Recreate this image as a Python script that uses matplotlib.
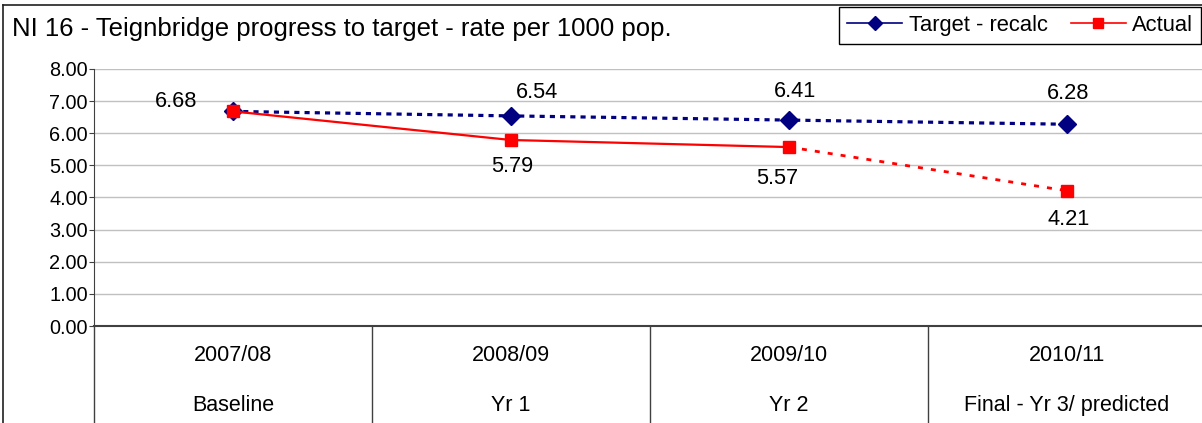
import matplotlib
matplotlib.use("Agg")
import matplotlib.pyplot as plt
from matplotlib.lines import Line2D
import matplotlib.transforms as mtransforms

plt.rcParams['font.family'] = ['Liberation Sans', 'DejaVu Sans']

# ---- data ----
years = ["2007/08", "2008/09", "2009/10", "2010/11"]
stages = ["Baseline", "Yr 1", "Yr 2", "Final - Yr 3/ predicted"]
target = [6.68, 6.54, 6.41, 6.28]
actual = [6.68, 5.79, 5.57, 4.21]
yticks = [0, 1, 2, 3, 4, 5, 6, 7, 8]
title = "NI 16 - Teignbridge progress to target - rate per 1000 pop."
series_names = ["Target - recalc", "Actual"]

# ---- layout constants (pixel offsets for data labels) ----
target_label_offsets_px = [(-57, 10), (26, 23), (6, 29), (1, 31)]
actual_label_offsets_px = [None, (1, -27), (-12, -31), (2, -29)]

W, H = 1202, 423
fig = plt.figure(figsize=(W / 100, H / 100), dpi=100)
ax = fig.add_axes([94 / W, 1 - 326 / H, (1206 - 94) / W, (326 - 69) / H])

navy = "#000080"
red = "#FF0000"
x = list(range(len(years)))

ax.set_xlim(-0.5, len(years) - 0.5)
ax.set_ylim(0, 8)
ax.set_yticks(yticks)
ax.set_yticklabels([f"{v:.2f}" for v in yticks], fontsize=14.3)
ax.set_xticks([])
ax.grid(axis='y', color='#c0c0c0', linewidth=1)
ax.set_axisbelow(True)
for s in ['top', 'right']:
    ax.spines[s].set_visible(False)
ax.spines['left'].set_color('#404040')
ax.spines['bottom'].set_color('#404040')
ax.spines['bottom'].set_linewidth(1.5)
ax.tick_params(axis='y', length=3.5, color='#404040', pad=1)

# target series (dotted)
ax.plot(x, target, color=navy, lw=2.3, linestyle=(0, (1.6, 1.6)), zorder=3)
ax.plot(x, target, linestyle='none', marker='D', ms=9, color=navy, zorder=4)
# actual series: solid for actual years, dotted to predicted
ax.plot(x[:3], actual[:3], color=red, lw=1.6, zorder=5)
ax.plot(x[2:], actual[2:], color=red, lw=2.0, linestyle=(0, (1.8, 2.9)), zorder=5)
ax.plot(x, actual, linestyle='none', marker='s', ms=9, color=red, zorder=6)

# data labels
lab_fs = 15.7
for i, v in enumerate(target):
    dx, dy = target_label_offsets_px[i]
    ax.annotate(f"{v:.2f}", (x[i], v), xytext=(dx * 0.72, dy * 0.72),
                textcoords='offset points', ha='center', va='center', fontsize=lab_fs)
for i, v in enumerate(actual):
    off = actual_label_offsets_px[i]
    if off is None:
        continue
    dx, dy = off
    ax.annotate(f"{v:.2f}", (x[i], v), xytext=(dx * 0.72, dy * 0.72),
                textcoords='offset points', ha='center', va='center', fontsize=lab_fs)

# multi-level category axis
trans = mtransforms.blended_transform_factory(ax.transData, ax.transAxes)
ax_h = 326 - 69
for i in x:
    ax.text(i, -(355 - 326) / ax_h, years[i], transform=trans, ha='center', va='center', fontsize=15.5)
    ax.text(i, -(405 - 326) / ax_h, stages[i], transform=trans, ha='center', va='center', fontsize=15.5)
for b in [i - 0.5 for i in x]:
    ax.plot([b, b], [0, -0.5], transform=trans, color='#404040', lw=1, clip_on=False)

# title
fig.text(12 / W, 1 - 29 / H, title, ha='left', va='center', fontsize=18.5)

# legend
handles = [Line2D([], [], color=navy, marker='D', ms=7, lw=1.2),
           Line2D([], [], color=red, marker='s', ms=7.5, lw=1.2)]
leg = fig.legend(handles, series_names, loc='upper right',
                 bbox_to_anchor=(1201 / W, 1 - 7 / H), ncol=2, fontsize=15.8,
                 frameon=True, fancybox=False, edgecolor='black', framealpha=1,
                 handlelength=2.5, columnspacing=1.05, handletextpad=0.3,
                 borderpad=0.36, borderaxespad=0)
leg.get_frame().set_linewidth(1)

# outer chart border
fig.add_artist(Line2D([3 / W, 3 / W], [-0.1, 1 - 5 / H], color='#202020', lw=1.2))
fig.add_artist(Line2D([3 / W, 1.1], [1 - 5 / H, 1 - 5 / H], color='#202020', lw=1.2))

fig.savefig("out.png", dpi=100)
